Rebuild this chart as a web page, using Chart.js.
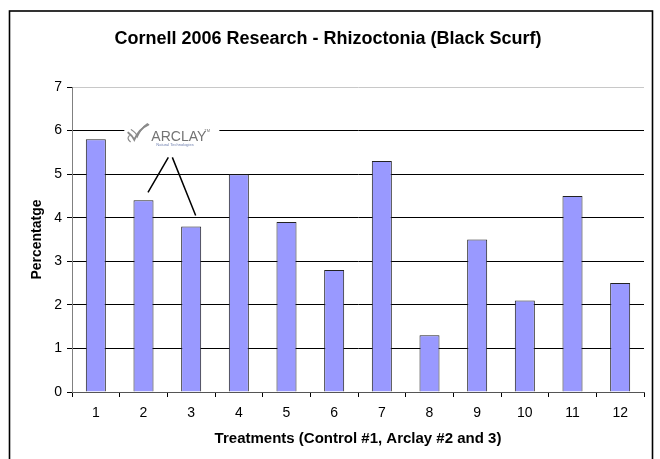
<!DOCTYPE html>
<html>
<head>
<meta charset="utf-8">
<script src="https://cdn.jsdelivr.net/npm/chart.js@4.4.1/dist/chart.umd.min.js"></script>
<style>
  html, body { margin: 0; padding: 0; background: #fff; }
  #wrap { width: 660px; height: 459px; position: relative; }
</style>
</head>
<body>
<div id="wrap"><canvas id="c" width="660" height="459"></canvas></div>
<script>
// Treatment numbers and black scurf incidence (%)
const treatments = ['1', '2', '3', '4', '5', '6', '7', '8', '9', '10', '11', '12'];
const percentages = [5.8, 4.4, 3.8, 5.0, 3.9, 2.8, 5.3, 1.3, 3.5, 2.1, 4.5, 2.5];
const yTicks = [0, 1, 2, 3, 4, 5, 6, 7];
// Arclay-treated plots called out by the logo
const arclayTreatments = [1, 2];

const FONT = '"Liberation Sans", Arial, Helvetica, sans-serif';

// White page with the outer black frame
const framePlugin = {
  id: 'frame',
  beforeDraw(chart) {
    const ctx = chart.ctx;
    ctx.save();
    ctx.fillStyle = '#fff';
    ctx.fillRect(0, 0, chart.width, chart.height);
    ctx.strokeStyle = '#000';
    ctx.lineWidth = 1.6;
    ctx.strokeRect(9.5, 11, 643, 470);
    ctx.restore();
  }
};

// Arclay logo with pointers to the Arclay treatment bars
const logoPlugin = {
  id: 'arclayLogo',
  afterDatasetsDraw(chart) {
    const ctx = chart.ctx;
    const x = chart.scales.x, y = chart.scales.y;
    const cx = x.getPixelForValue(1.5) + 3;
    const boxTop = y.getPixelForValue(6.25);
    const boxBottom = y.getPixelForValue(5.5);
    ctx.save();
    // white plate behind the logo
    ctx.fillStyle = '#fff';
    ctx.fillRect(cx - 46, boxTop, 95, boxBottom - boxTop);

    // check-mark swoosh
    const lx = cx - 44, ly = boxTop + 4;
    ctx.strokeStyle = '#8a8a8a';
    ctx.lineWidth = 2;
    ctx.lineCap = 'round';
    ctx.beginPath();
    ctx.moveTo(lx + 2, ly + 9);
    ctx.quadraticCurveTo(lx + 6, ly + 12, lx + 8, ly + 16);
    ctx.quadraticCurveTo(lx + 13, ly + 5, lx + 22, ly + 1);
    ctx.stroke();
    ctx.lineWidth = 1.2;
    ctx.beginPath();
    ctx.moveTo(lx + 5, ly + 6);
    ctx.quadraticCurveTo(lx + 10, ly + 9, lx + 11, ly + 13);
    ctx.quadraticCurveTo(lx + 15, ly + 4, lx + 21, ly + 0);
    ctx.stroke();
    ctx.beginPath();
    ctx.moveTo(lx + 3, ly + 12);
    ctx.quadraticCurveTo(lx + 0, ly + 15, lx + 4, ly + 18);
    ctx.stroke();

    // word mark
    ctx.fillStyle = '#737373';
    ctx.font = '14px ' + FONT;
    ctx.textBaseline = 'alphabetic';
    ctx.textAlign = 'left';
    ctx.fillText('ARCLAY', cx - 19, boxTop + 21);
    ctx.font = '4px ' + FONT;
    ctx.fillText('TM', cx + 34, boxTop + 12);
    ctx.fillStyle = '#7080b0';
    ctx.font = '4px ' + FONT;
    ctx.fillText('Natural Technologies', cx - 14, boxTop + 26);

    // pointer lines down to the Arclay bars
    ctx.strokeStyle = '#000';
    ctx.lineWidth = 1.5;
    ctx.lineCap = 'butt';
    const startY = boxBottom + 5;
    const [a, b] = arclayTreatments;
    ctx.beginPath();
    ctx.moveTo(cx - 2, startY);
    ctx.lineTo(x.getPixelForValue(a) + 4.5, y.getPixelForValue(percentages[a]) - 8);
    ctx.moveTo(cx + 2, startY);
    ctx.lineTo(x.getPixelForValue(b) + 4.5, y.getPixelForValue(percentages[b]) - 11);
    ctx.stroke();
    ctx.restore();
  }
};

new Chart(document.getElementById('c'), {
  type: 'bar',
  data: {
    labels: treatments,
    datasets: [{
      data: percentages,
      backgroundColor: '#9999FF',
      borderColor: '#222',
      borderWidth: 1,
      barPercentage: 0.42,
      categoryPercentage: 1.0
    }]
  },
  options: {
    responsive: false,
    animation: false,
    devicePixelRatio: 1,
    layout: { padding: { left: 12, right: 16, top: 12, bottom: 0 } },
    plugins: {
      legend: { display: false },
      tooltip: { enabled: false },
      title: {
        display: true,
        text: 'Cornell 2006 Research - Rhizoctonia (Black Scurf)',
        color: '#000',
        font: { family: FONT, size: 18, weight: 'bold' },
        padding: { top: 16.2, bottom: 37.2 }
      }
    },
    scales: {
      x: {
        offset: true,
        grid: {
          offset: true,
          drawOnChartArea: false,
          drawTicks: true,
          tickLength: 5,
          tickColor: '#000'
        },
        border: { color: '#555', width: 1 },
        ticks: {
          color: '#000',
          padding: 8,
          font: { family: FONT, size: 14 }
        },
        title: {
          display: true,
          text: 'Treatments (Control #1, Arclay #2 and 3)',
          color: '#000',
          font: { family: FONT, size: 15, weight: 'bold' },
          padding: { top: 4, bottom: 11 }
        },
        afterFit(scale) { scale.height = 67; }
      },
      y: {
        min: 0,
        max: 7,
        afterBuildTicks(scale) { scale.ticks = yTicks.map(v => ({ value: v })); },
        grid: {
          color: ctx => (ctx.tick && ctx.tick.value === 7 ? '#c8c8c8' : '#000'),
          lineWidth: 1,
          drawTicks: true,
          tickLength: 5,
          tickColor: '#000'
        },
        border: { color: '#808080', width: 1 },
        ticks: {
          color: '#000',
          padding: 5,
          font: { family: FONT, size: 14 }
        },
        title: {
          display: true,
          text: 'Percentatge',
          color: '#000',
          font: { family: FONT, size: 14, weight: 'bold' },
          padding: { top: 17, bottom: 4 }
        },
        afterFit(scale) { scale.width = 60; }
      }
    }
  },
  plugins: [framePlugin, logoPlugin]
});
</script>
</body>
</html>
